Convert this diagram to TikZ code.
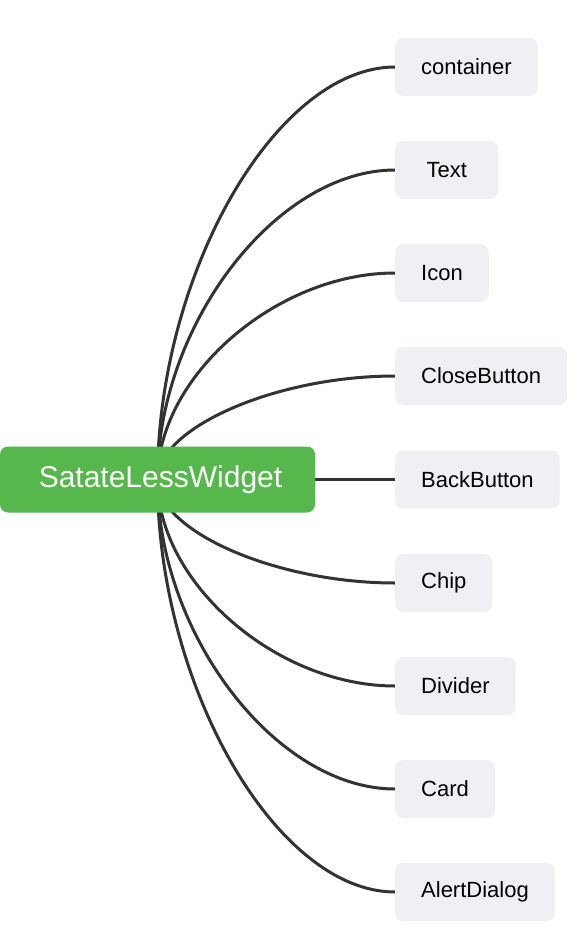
\documentclass[tikz,border=0pt]{standalone}
\usepackage{fontspec}
\setmainfont{Liberation Sans}
\usetikzlibrary{calc,backgrounds}
\definecolor{rootgreen}{HTML}{56B74C}
\definecolor{leafgray}{HTML}{EEF0F3}
\definecolor{linkgray}{HTML}{333333}
\begin{document}
\begin{tikzpicture}[x=1pt,y=-1pt,
    rootbox/.style={fill=rootgreen,rounded corners=8pt,text=white,minimum width=315pt,minimum height=66pt,font=\fontsize{30}{34}\selectfont},
    leafbox/.style={fill=leafgray,rounded corners=8pt,anchor=west,inner xsep=26pt,minimum height=58pt,font=\fontsize{22}{26}\selectfont},
    link/.style={draw=linkgray,line width=3pt}]
    \useasboundingbox (0,0) rectangle (578,934);
    \node[rootbox] (root) at (157.5,479.5) {\hspace{6pt}SatateLessWidget};
    \foreach \n/\y/\w in {container/67/0,Text/170/103,Icon/273/0,CloseButton/376/0,BackButton/479.5/0,Chip/583/0,Divider/686/0,Card/789/0,AlertDialog/892/0}
        \node[leafbox,minimum width=\w pt] (\n) at (395,\y) {\n};
    \begin{scope}[on background layer]
        \foreach \n in {container,Text,Icon,CloseButton,BackButton,Chip,Divider,Card,AlertDialog}{
            \coordinate (m) at ($(root.center)!.5!(\n.west)$);
            \draw[link] (root.center) .. controls (root.center |- m) and (m |- \n.west) .. (\n.west);}
    \end{scope}
\end{tikzpicture}
\end{document}
